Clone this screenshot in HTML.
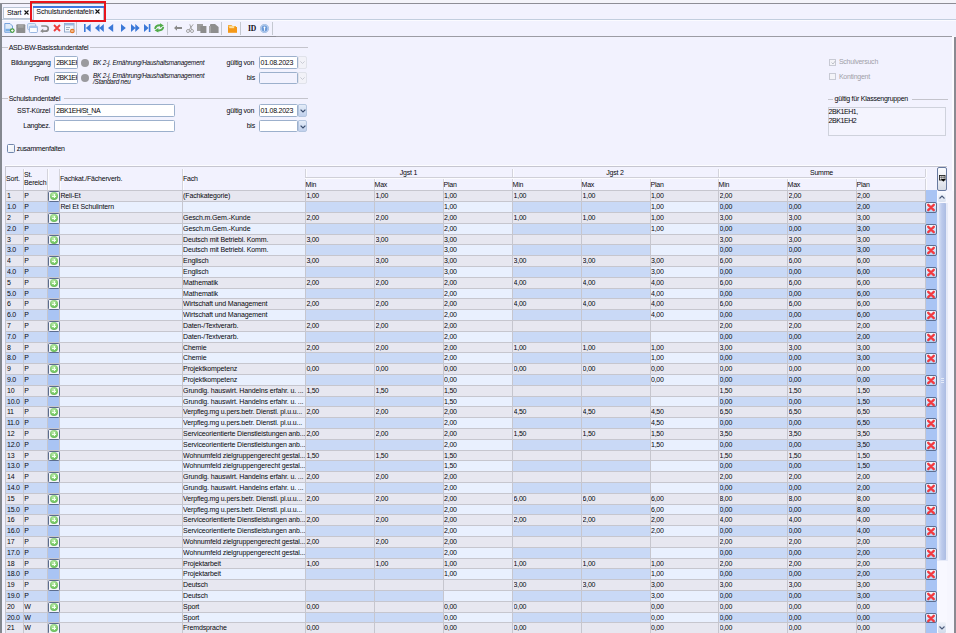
<!DOCTYPE html>
<html><head><meta charset="utf-8"><style>
*{margin:0;padding:0;box-sizing:border-box}
html,body{width:956px;height:633px;overflow:hidden;background:#f2f2fe;font-family:"Liberation Sans",sans-serif;font-size:7px;color:#08080c}
.a{position:absolute}
.c{position:absolute;border-top:1px solid #c6c6ce;border-left:1px solid #c6c6ce;overflow:hidden;white-space:nowrap}
.t{position:absolute;font-size:7px;letter-spacing:-0.25px;line-height:8px;white-space:nowrap;overflow:hidden}
.pb{position:absolute;width:12.2px;border:1px solid #5c6c8e;border-radius:1.5px;background:#f4f6fa}
.pb i{position:absolute;left:1.1px;top:0.6px;width:8.4px;height:8.4px;border-radius:50%;background:radial-gradient(circle at 45% 35%,#c8f0b8,#6cc05c 65%,#58a84c)}
.pb i:before{content:"";position:absolute;left:3.6px;top:2.4px;width:1.2px;height:3.6px;background:#f4fff0}
.pb i:after{content:"";position:absolute;left:2.4px;top:3.6px;width:3.6px;height:1.2px;background:#f4fff0}
.xb{position:absolute;width:12px;border:1px solid #5c6e90;border-radius:2px;background:linear-gradient(#f4f8fe,#b4d4f6)}
.xb svg{position:absolute;left:0px;top:0.3px}
.hd{position:absolute;font-size:7px;letter-spacing:-0.2px;line-height:8px;white-space:nowrap}
.lbl{position:absolute;font-size:7px;letter-spacing:-0.24px;line-height:8px;white-space:nowrap}
.inp{position:absolute;background:#fff;border:1px solid #9cb0cc;border-radius:1.5px}
.fs{position:absolute;height:1px;background:#c4c4cc}
</style></head><body>
<!-- top strip -->
<div class="a" style="left:0;top:0;width:956px;height:3px;background:#f4f4fa"></div>
<div class="a" style="left:0;top:3px;width:956px;height:1px;background:#8e8e96"></div>
<!-- tab bar -->
<div class="a" style="left:0;top:4px;width:956px;height:15px;background:#f2f2fe"></div>
<div class="a" style="left:0;top:18.6px;width:956px;height:1.6px;background:#c2cede"></div><div class="a" style="left:0;top:20.2px;width:956px;height:1px;background:#fbfbff"></div>
<div class="a" style="left:2.5px;top:6.5px;width:28px;height:12.5px;background:#fbfbff;border:1px solid #b8c4d4"></div>
<div class="hd" style="left:7px;top:9px;font-size:7.2px">Start</div>
<svg class="a" style="left:23.6px;top:10.2px" width="5" height="5" viewBox="0 0 5 5"><path d="M0.5 0.5 L4.5 4.5 M4.5 0.5 L0.5 4.5" stroke="#111" stroke-width="1.1"/></svg>
<div class="a" style="left:33px;top:6px;width:71px;height:14px;background:#fcfcff;border-left:1px solid #b4c0d0;border-right:1px solid #b4c0d0"></div>
<div class="a" style="left:33px;top:6px;width:71px;height:1.6px;background:#3a78e0"></div>
<div class="hd" style="left:36.3px;top:8px;font-size:7.2px">Schulstundentafeln</div>
<svg class="a" style="left:95px;top:9.2px" width="5" height="5" viewBox="0 0 5 5"><path d="M0.5 0.5 L4.5 4.5 M4.5 0.5 L0.5 4.5" stroke="#111" stroke-width="1.1"/></svg>
<div class="a" style="left:30px;top:1.3px;width:75.5px;height:20.7px;border:2.2px solid #e8141c"></div>
<!-- toolbar -->
<div class="a" style="left:0;top:36px;width:276px;height:1px;background:#8c8c94"></div>
<div class="a" style="left:276px;top:36px;width:676px;height:1px;background:#9c9ca4"></div><div class="a" style="left:952px;top:36px;width:2.5px;height:597px;background:#fbfbff"></div>
<svg class="a" style="left:4px;top:23px" width="11" height="10" viewBox="0 0 11 10"><path d="M0.8 0.5 H6 L8.5 3 V9.3 H0.8 Z" fill="#dfeaf8" stroke="#6a9ad8" stroke-width="0.9"/><rect x="1.5" y="5.8" width="6" height="2.5" fill="#7ab0e8"/><circle cx="8.3" cy="7.6" r="2.4" fill="#4aa040"/><path d="M8.3 6.3 V8.9 M7 7.6 H9.6" stroke="#fff" stroke-width="0.9"/></svg>
<svg class="a" style="left:16px;top:23.5px" width="10" height="9.5" viewBox="0 0 10 9.5"><rect x="0.3" y="0.3" width="9" height="9" rx="1" fill="#8e8e8e"/><rect x="2" y="0.8" width="5.5" height="3" fill="#a4a4a4"/></svg>
<svg class="a" style="left:27px;top:22.8px" width="11" height="10.2" viewBox="0 0 11 10.2"><rect x="0.6" y="0.6" width="8" height="6" rx="1" fill="#e6eefa" stroke="#98b8e0" stroke-width="0.9"/><rect x="2.4" y="3.2" width="8" height="6.4" rx="1" fill="#fafcff" stroke="#88aadc" stroke-width="0.9"/><rect x="2.4" y="3.2" width="8" height="1.8" fill="#a8c4ec"/></svg>
<svg class="a" style="left:40.3px;top:23.8px" width="9" height="9" viewBox="0 0 9 9"><path d="M1.2 2 H5.6 A2.6 2.6 0 0 1 5.6 7.2 H2.6" fill="none" stroke="#8c8c8c" stroke-width="1.7"/><path d="M0.2 7.2 L3.2 4.6 V9 Z" fill="#8c8c8c"/></svg>
<svg class="a" style="left:52.5px;top:24px" width="8" height="8" viewBox="0 0 8 8"><path d="M1 1 L7 7 M7 1 L1 7" stroke="#ee3c3c" stroke-width="1.9"/></svg>
<svg class="a" style="left:64px;top:23px" width="11" height="10.5" viewBox="0 0 11 10.5"><rect x="0.5" y="0.5" width="9.5" height="8.5" fill="#f0f4fa" stroke="#8aa4c8" stroke-width="0.9"/><rect x="0.5" y="0.5" width="9.5" height="2" fill="#9cb8e0"/><path d="M2 4.5 H6 M2 6.5 H5" stroke="#8a9ab0" stroke-width="0.8"/><circle cx="8.3" cy="8" r="2.3" fill="#e87820"/><path d="M7.1 8 H9.5" stroke="#fff" stroke-width="0.9"/></svg>
<div class="a" style="left:76px;top:22px;width:1px;height:13px;background:#c4c8d0"></div>
<div class="a" style="left:167px;top:22px;width:1px;height:13px;background:#c4c8d0"></div>
<div class="a" style="left:221px;top:22px;width:1px;height:13px;background:#c4c8d0"></div>
<div class="a" style="left:240px;top:22px;width:1px;height:13px;background:#c4c8d0"></div>
<div class="a" style="left:272px;top:22px;width:1px;height:13px;background:#c4c8d0"></div>
<svg class="a" style="left:83.8px;top:24px" width="7" height="8" viewBox="0 0 7 8"><rect x="0" y="0" width="1.6" height="8" fill="#3a78d8"/><path d="M6.6 0 V8 L1.8 4 Z" fill="#3a78d8"/></svg>
<svg class="a" style="left:95px;top:24px" width="9" height="8" viewBox="0 0 9 8"><path d="M4.5 0 V8 L0 4 Z M8.8 0 V8 L4.3 4 Z" fill="#3a78d8"/></svg>
<svg class="a" style="left:108.2px;top:24px" width="6" height="8" viewBox="0 0 6 8"><path d="M5.2 0 V8 L0 4 Z" fill="#3a78d8"/></svg>
<svg class="a" style="left:120.5px;top:24px" width="6" height="8" viewBox="0 0 6 8"><path d="M0 0 V8 L4.8 4 Z" fill="#3a78d8"/></svg>
<svg class="a" style="left:130.8px;top:24px" width="9" height="8" viewBox="0 0 9 8"><path d="M0 0 V8 L4.5 4 Z M4.3 0 V8 L8.6 4 Z" fill="#3a78d8"/></svg>
<svg class="a" style="left:144px;top:24px" width="7" height="8" viewBox="0 0 7 8"><path d="M0 0 V8 L4.6 4 Z" fill="#3a78d8"/><rect x="4.8" y="0" width="1.6" height="8" fill="#3a78d8"/></svg>
<svg class="a" style="left:154px;top:23px" width="10.5" height="10" viewBox="0 0 10.5 10"><path d="M1.2 5.2 Q2.2 1.8 6.8 2.4" fill="none" stroke="#52ac4a" stroke-width="1.9" stroke-linecap="round"/><path d="M6 0.2 L9.8 2.6 L6 4.8 Z" fill="#52ac4a"/><path d="M9.2 4.6 Q8.2 8 3.6 7.4" fill="none" stroke="#52ac4a" stroke-width="1.9" stroke-linecap="round"/><path d="M4.4 5 L0.6 7.4 L4.4 9.6 Z" fill="#52ac4a"/></svg>
<svg class="a" style="left:173.8px;top:25px" width="8.5" height="6" viewBox="0 0 8.5 6"><path d="M0 3 L3 0.3 V2 H8.2 V4 H3 V5.7 Z" fill="#8a8a8a"/></svg>
<svg class="a" style="left:185.7px;top:23.5px" width="8" height="9" viewBox="0 0 8 9"><path d="M7.2 0.3 L3 6 M3.8 0.3 L5.6 5.6" stroke="#9a9a9a" stroke-width="0.9" fill="none"/><circle cx="2" cy="7" r="1.5" fill="none" stroke="#9a9a9a" stroke-width="0.9"/><circle cx="6" cy="7" r="1.5" fill="none" stroke="#9a9a9a" stroke-width="0.9"/></svg>
<svg class="a" style="left:197px;top:23.5px" width="10" height="9" viewBox="0 0 10 9"><rect x="0" y="0" width="6" height="7" fill="#9c9c9c"/><rect x="3.4" y="2" width="6" height="7" fill="#8c8c8c"/></svg>
<svg class="a" style="left:209px;top:23.5px" width="10" height="9.5" viewBox="0 0 10 9.5"><path d="M1 1 Q1 0 2 0 H6 L9.6 3 V9.2 H1 Z" fill="#8e8e8e"/><path d="M0 2 H2 V9.2 H0 Z" fill="#a6a6a6"/></svg>
<svg class="a" style="left:227.7px;top:23.5px" width="9.5" height="9" viewBox="0 0 9.5 9"><path d="M0 1 H3.5 L4.5 2 H8 V3 H0 Z" fill="#f4b040"/><rect x="0" y="3" width="9.2" height="5.8" fill="#f49818"/><rect x="1.2" y="2.2" width="5" height="2" fill="#fde0a0"/></svg>
<div class="a" style="left:248px;top:24px;font-family:'Liberation Serif',serif;font-weight:bold;font-size:7.6px;line-height:9px;letter-spacing:-0.2px;color:#101018">ID</div>
<svg class="a" style="left:260.3px;top:23.6px" width="9" height="9" viewBox="0 0 9 9"><circle cx="4.5" cy="4.5" r="4.2" fill="#bcd2f0" stroke="#90b0dc" stroke-width="0.6"/><circle cx="4.5" cy="4.5" r="2.9" fill="#6c9ad8"/><circle cx="4.5" cy="3.6" r="1" fill="#fff"/><rect x="4.1" y="3.8" width="0.9" height="3" fill="#fff"/></svg>
<!-- left/right edges -->
<div class="a" style="left:0;top:4px;width:1.6px;height:629px;background:#84888f"></div>
<div class="a" style="left:954.4px;top:37px;width:1.6px;height:596px;background:#8a8a92"></div>

<!-- form: ASD-BW -->
<div class="fs" style="left:2px;top:47px;width:6px"></div>
<div class="lbl" style="left:8.7px;top:43.5px">ASD-BW-Basisstundentafel</div>
<div class="fs" style="left:89.5px;top:47px;width:218.5px"></div>
<div class="lbl" style="left:11px;top:58.5px">Bildungsgang</div>
<div class="inp" style="left:54px;top:56px;width:24px;height:12.8px;overflow:hidden"><span class="lbl" style="left:1.2px;top:2.3px;letter-spacing:-0.5px">2BK1EH</span></div>
<div class="a" style="left:80.8px;top:58.6px;width:8px;height:8px;border-radius:50%;background:#9a9a9e"></div>
<div class="lbl" style="left:93px;top:58.8px;font-style:italic;font-size:6.4px;letter-spacing:-0.19px">BK 2-j. Ernährung/Haushaltsmanagement</div>
<div class="lbl" style="left:34.3px;top:74.6px">Profil</div>
<div class="inp" style="left:54px;top:71.9px;width:24px;height:12.2px;overflow:hidden"><span class="lbl" style="left:1.2px;top:1.6px;letter-spacing:-0.5px">2BK1EH</span></div>
<div class="a" style="left:80.8px;top:74px;width:8px;height:8px;border-radius:50%;background:#9a9a9e"></div>
<div class="lbl" style="left:93px;top:73px;font-style:italic;font-size:6.4px;line-height:6px;letter-spacing:-0.19px">BK 2-j. Ernährung/Haushaltsmanagement<br>/Standard neu</div>
<div class="lbl" style="left:226.6px;top:58.5px">gültig von</div>
<div class="inp" style="left:259.2px;top:56px;width:38.6px;height:12.8px"><span class="lbl" style="left:0.3px;top:2.3px">01.08.2023</span></div>
<div class="a" style="left:298.4px;top:56px;width:8.8px;height:12.8px;border:1px solid #e0e2ea;background:#f2f2f8;border-radius:1px 2px 2px 1px"></div><svg class="a" style="left:300.2px;top:61px" width="5" height="3" viewBox="0 0 5 3"><path d="M0.4 0.4 L2.5 2.5 L4.6 0.4" fill="none" stroke="#c4c6d0" stroke-width="0.9"/></svg>
<div class="lbl" style="left:246.7px;top:74px">bis</div>
<div class="inp" style="left:259.2px;top:71.9px;width:38.6px;height:12.2px;background:#f2f2fe"></div>
<div class="a" style="left:298.4px;top:71.9px;width:8.8px;height:12.2px;border:1px solid #e0e2ea;background:#f2f2f8;border-radius:1px 2px 2px 1px"></div><svg class="a" style="left:300.2px;top:76.6px" width="5" height="3" viewBox="0 0 5 3"><path d="M0.4 0.4 L2.5 2.5 L4.6 0.4" fill="none" stroke="#c4c6d0" stroke-width="0.9"/></svg>

<!-- form: Schulstundentafel -->
<div class="fs" style="left:2px;top:98.4px;width:6px"></div>
<div class="lbl" style="left:8.7px;top:95.2px">Schulstundentafel</div>
<div class="fs" style="left:63.6px;top:98.4px;width:244.4px"></div>
<div class="lbl" style="left:17px;top:107px">SST-Kürzel</div>
<div class="inp" style="left:54px;top:104px;width:120.5px;height:12.8px"><span class="lbl" style="left:1.2px;top:2.2px;letter-spacing:-0.42px">2BK1EH/St_NA</span></div>
<div class="lbl" style="left:23.3px;top:122px">Langbez.</div>
<div class="inp" style="left:54px;top:119.9px;width:120.5px;height:12.2px"></div>
<div class="lbl" style="left:226.6px;top:107px">gültig von</div>
<div class="inp" style="left:259.2px;top:104px;width:38.6px;height:12.8px"><span class="lbl" style="left:0.3px;top:2.2px">01.08.2023</span></div>
<div class="a" style="left:298.4px;top:104px;width:8.8px;height:12.8px;border:1px solid #b4c6e0;background:linear-gradient(#e4ecf8,#c0d0ec);border-radius:1px 2px 2px 1px"></div><svg class="a" style="left:299.8px;top:109px" width="6" height="4" viewBox="0 0 6 4"><path d="M0.6 0.6 L3 3 L5.4 0.6" fill="none" stroke="#3a4c6e" stroke-width="1.2"/></svg>
<div class="lbl" style="left:246.7px;top:122px">bis</div>
<div class="inp" style="left:259.2px;top:119.9px;width:38.6px;height:12.2px"></div>
<div class="a" style="left:298.4px;top:119.9px;width:8.8px;height:12.2px;border:1px solid #b4c6e0;background:linear-gradient(#e4ecf8,#c0d0ec);border-radius:1px 2px 2px 1px"></div><svg class="a" style="left:299.8px;top:124.6px" width="6" height="4" viewBox="0 0 6 4"><path d="M0.6 0.6 L3 3 L5.4 0.6" fill="none" stroke="#3a4c6e" stroke-width="1.2"/></svg>
<div class="a" style="left:6.6px;top:144.4px;width:8.4px;height:8.3px;border:1.1px solid #7086ac;border-radius:1.5px;background:linear-gradient(135deg,#fff,#e8ecf4)"></div>
<div class="lbl" style="left:16.7px;top:144.6px">zusammenfalten</div>

<!-- right side -->
<div class="a" style="left:829.4px;top:58.6px;width:7px;height:7px;border:1px solid #c8cad4;background:#f4f4f8"></div>
<svg class="a" style="left:830.6px;top:59.8px" width="5" height="5" viewBox="0 0 5 5"><path d="M0.5 2.5 L2 4 L4.5 0.8" fill="none" stroke="#b0b2bc" stroke-width="0.8"/></svg><div class="lbl" style="left:838.9px;top:58.1px;color:#a0a0a8">Schulversuch</div>
<div class="a" style="left:829.4px;top:72.9px;width:7px;height:7px;border:1px solid #c8cad4;background:#f4f4f8"></div>
<div class="lbl" style="left:838.9px;top:72.7px;color:#a0a0a8">Kontingent</div>
<div class="fs" style="left:828.3px;top:98.8px;width:4.7px"></div>
<div class="lbl" style="left:834.6px;top:94.8px">gültig für Klassengruppen</div>
<div class="fs" style="left:912px;top:98.8px;width:36px"></div>
<div class="a" style="left:828.3px;top:107.1px;width:117.6px;height:29.3px;border:1px solid #cfd2dc;background:#f4f4fe"></div>
<div class="lbl" style="left:828.6px;top:108px;line-height:8.7px;letter-spacing:-0.45px">2BK1EH1,<br>2BK1EH2</div>

<!-- table header -->
<div class="a" style="left:5px;top:165px;width:942px;height:1px;background:#fcfcff"></div><div class="a" style="left:5px;top:166px;width:942px;height:1px;background:#c6c6d0"></div>
<div class="a" style="left:6px;top:167.2px;width:919px;height:23.100000000000023px;background:#f2f2fe"></div>
<div class="a" style="left:5px;top:166.2px;width:1px;height:466.8px;background:#c6c6d0"></div>
<div class="a" style="left:22.50px;top:168.70px;width:1px;height:21.60px;background:#d4d4dc"></div><div class="a" style="left:23.50px;top:168.70px;width:1px;height:21.60px;background:#fcfcff"></div>
<div class="a" style="left:46.50px;top:168.70px;width:1px;height:21.60px;background:#d4d4dc"></div><div class="a" style="left:47.50px;top:168.70px;width:1px;height:21.60px;background:#fcfcff"></div>
<div class="a" style="left:58.50px;top:168.70px;width:1px;height:21.60px;background:#d4d4dc"></div><div class="a" style="left:59.50px;top:168.70px;width:1px;height:21.60px;background:#fcfcff"></div>
<div class="a" style="left:181.50px;top:168.70px;width:1px;height:21.60px;background:#d4d4dc"></div><div class="a" style="left:182.50px;top:168.70px;width:1px;height:21.60px;background:#fcfcff"></div>
<div class="a" style="left:304.50px;top:168.70px;width:1px;height:8.40px;background:#d4d4dc"></div><div class="a" style="left:305.50px;top:168.70px;width:1px;height:8.40px;background:#fcfcff"></div>
<div class="a" style="left:511.50px;top:168.70px;width:1px;height:8.40px;background:#d4d4dc"></div><div class="a" style="left:512.50px;top:168.70px;width:1px;height:8.40px;background:#fcfcff"></div>
<div class="a" style="left:717.50px;top:168.70px;width:1px;height:8.40px;background:#d4d4dc"></div><div class="a" style="left:718.50px;top:168.70px;width:1px;height:8.40px;background:#fcfcff"></div>
<div class="a" style="left:924.50px;top:168.70px;width:1px;height:8.40px;background:#d4d4dc"></div><div class="a" style="left:925.50px;top:168.70px;width:1px;height:8.40px;background:#fcfcff"></div>
<div class="a" style="left:304.50px;top:179.10px;width:1px;height:11.20px;background:#d4d4dc"></div><div class="a" style="left:305.50px;top:179.10px;width:1px;height:11.20px;background:#fcfcff"></div>
<div class="a" style="left:373.50px;top:179.10px;width:1px;height:11.20px;background:#d4d4dc"></div><div class="a" style="left:374.50px;top:179.10px;width:1px;height:11.20px;background:#fcfcff"></div>
<div class="a" style="left:442.50px;top:179.10px;width:1px;height:11.20px;background:#d4d4dc"></div><div class="a" style="left:443.50px;top:179.10px;width:1px;height:11.20px;background:#fcfcff"></div>
<div class="a" style="left:511.50px;top:179.10px;width:1px;height:11.20px;background:#d4d4dc"></div><div class="a" style="left:512.50px;top:179.10px;width:1px;height:11.20px;background:#fcfcff"></div>
<div class="a" style="left:580.50px;top:179.10px;width:1px;height:11.20px;background:#d4d4dc"></div><div class="a" style="left:581.50px;top:179.10px;width:1px;height:11.20px;background:#fcfcff"></div>
<div class="a" style="left:649.50px;top:179.10px;width:1px;height:11.20px;background:#d4d4dc"></div><div class="a" style="left:650.50px;top:179.10px;width:1px;height:11.20px;background:#fcfcff"></div>
<div class="a" style="left:717.50px;top:179.10px;width:1px;height:11.20px;background:#d4d4dc"></div><div class="a" style="left:718.50px;top:179.10px;width:1px;height:11.20px;background:#fcfcff"></div>
<div class="a" style="left:786.50px;top:179.10px;width:1px;height:11.20px;background:#d4d4dc"></div><div class="a" style="left:787.50px;top:179.10px;width:1px;height:11.20px;background:#fcfcff"></div>
<div class="a" style="left:855.50px;top:179.10px;width:1px;height:11.20px;background:#d4d4dc"></div><div class="a" style="left:856.50px;top:179.10px;width:1px;height:11.20px;background:#fcfcff"></div>
<div class="a" style="left:924.50px;top:179.10px;width:1px;height:11.20px;background:#d4d4dc"></div><div class="a" style="left:925.50px;top:179.10px;width:1px;height:11.20px;background:#fcfcff"></div>
<div class="a" style="left:305.00px;top:177.10px;width:620.00px;height:1px;background:#d0d0d8"></div>
<div class="a" style="left:305.00px;top:178.10px;width:620.00px;height:1px;background:#fcfcff"></div>
<div class="hd" style="left:6px;top:174.5px">Sort.</div>
<div class="hd" style="left:24px;top:170.8px;line-height:8.3px">St.<br>Bereich</div>
<div class="hd" style="left:60px;top:175px">Fachkat./Fächerverb.</div>
<div class="hd" style="left:183px;top:175px">Fach</div>
<div class="hd" style="left:305.00px;top:168.5px;width:207.00px;text-align:center">Jgst 1</div>
<div class="hd" style="left:305.50px;top:180.6px">Min</div>
<div class="hd" style="left:374.50px;top:180.6px">Max</div>
<div class="hd" style="left:443.50px;top:180.6px">Plan</div>
<div class="hd" style="left:512.00px;top:168.5px;width:206.00px;text-align:center">Jgst 2</div>
<div class="hd" style="left:512.50px;top:180.6px">Min</div>
<div class="hd" style="left:581.50px;top:180.6px">Max</div>
<div class="hd" style="left:650.50px;top:180.6px">Plan</div>
<div class="hd" style="left:718.00px;top:168.5px;width:207.00px;text-align:center">Summe</div>
<div class="hd" style="left:718.50px;top:180.6px">Min</div>
<div class="hd" style="left:787.50px;top:180.6px">Max</div>
<div class="hd" style="left:856.50px;top:180.6px">Plan</div>
<div class="a" style="left:937px;top:166.6px;width:10.3px;height:24.2px;border:1.4px solid #687aa0;border-radius:2px;background:linear-gradient(#fafbfe,#eceef4 50%,#d8dce6)"></div>
<svg class="a" style="left:939.2px;top:174.8px" width="7" height="7" viewBox="0 0 7 7"><rect x="0.5" y="0.5" width="5.5" height="4.5" fill="#fafafa" stroke="#222" stroke-width="0.9"/><path d="M0.5 2.3 H6 M2.3 0.5 V5 M4.1 0.5 V5" stroke="#444" stroke-width="0.6"/><path d="M2 4 H6.6 L4.3 6.8 Z" fill="#000"/></svg>
<div class="a" style="left:5px;top:190px;width:920px;height:11px;background:#e7e7f0"></div>
<div class="a" style="left:925px;top:190px;width:12px;height:11px;background:#a9c4f4"></div>
<div class="a" style="left:5px;top:201px;width:42px;height:11px;background:#c9d9f6"></div>
<div class="a" style="left:47px;top:201px;width:12px;height:11px;background:#a9c4f4"></div>
<div class="a" style="left:59px;top:201px;width:246px;height:11px;background:#e9f0fe"></div>
<div class="a" style="left:305px;top:201px;width:138px;height:11px;background:#c9d9f6"></div>
<div class="a" style="left:443px;top:201px;width:69px;height:11px;background:#e9f0fe"></div>
<div class="a" style="left:512px;top:201px;width:138px;height:11px;background:#c9d9f6"></div>
<div class="a" style="left:650px;top:201px;width:68px;height:11px;background:#e9f0fe"></div>
<div class="a" style="left:718px;top:201px;width:207px;height:11px;background:#c9d9f6"></div>
<div class="a" style="left:925px;top:201px;width:12px;height:11px;background:#a9c4f4"></div>
<div class="a" style="left:5px;top:212px;width:920px;height:11px;background:#e7e7f0"></div>
<div class="a" style="left:925px;top:212px;width:12px;height:11px;background:#a9c4f4"></div>
<div class="a" style="left:5px;top:223px;width:42px;height:11px;background:#c9d9f6"></div>
<div class="a" style="left:47px;top:223px;width:12px;height:11px;background:#a9c4f4"></div>
<div class="a" style="left:59px;top:223px;width:246px;height:11px;background:#e9f0fe"></div>
<div class="a" style="left:305px;top:223px;width:138px;height:11px;background:#c9d9f6"></div>
<div class="a" style="left:443px;top:223px;width:69px;height:11px;background:#e9f0fe"></div>
<div class="a" style="left:512px;top:223px;width:138px;height:11px;background:#c9d9f6"></div>
<div class="a" style="left:650px;top:223px;width:68px;height:11px;background:#e9f0fe"></div>
<div class="a" style="left:718px;top:223px;width:207px;height:11px;background:#c9d9f6"></div>
<div class="a" style="left:925px;top:223px;width:12px;height:11px;background:#a9c4f4"></div>
<div class="a" style="left:5px;top:234px;width:920px;height:10px;background:#e7e7f0"></div>
<div class="a" style="left:925px;top:234px;width:12px;height:10px;background:#a9c4f4"></div>
<div class="a" style="left:5px;top:244px;width:42px;height:11px;background:#c9d9f6"></div>
<div class="a" style="left:47px;top:244px;width:12px;height:11px;background:#a9c4f4"></div>
<div class="a" style="left:59px;top:244px;width:246px;height:11px;background:#e9f0fe"></div>
<div class="a" style="left:305px;top:244px;width:138px;height:11px;background:#c9d9f6"></div>
<div class="a" style="left:443px;top:244px;width:69px;height:11px;background:#e9f0fe"></div>
<div class="a" style="left:512px;top:244px;width:138px;height:11px;background:#c9d9f6"></div>
<div class="a" style="left:650px;top:244px;width:68px;height:11px;background:#e9f0fe"></div>
<div class="a" style="left:718px;top:244px;width:207px;height:11px;background:#c9d9f6"></div>
<div class="a" style="left:925px;top:244px;width:12px;height:11px;background:#a9c4f4"></div>
<div class="a" style="left:5px;top:255px;width:920px;height:11px;background:#e7e7f0"></div>
<div class="a" style="left:925px;top:255px;width:12px;height:11px;background:#a9c4f4"></div>
<div class="a" style="left:5px;top:266px;width:42px;height:11px;background:#c9d9f6"></div>
<div class="a" style="left:47px;top:266px;width:12px;height:11px;background:#a9c4f4"></div>
<div class="a" style="left:59px;top:266px;width:246px;height:11px;background:#e9f0fe"></div>
<div class="a" style="left:305px;top:266px;width:138px;height:11px;background:#c9d9f6"></div>
<div class="a" style="left:443px;top:266px;width:69px;height:11px;background:#e9f0fe"></div>
<div class="a" style="left:512px;top:266px;width:138px;height:11px;background:#c9d9f6"></div>
<div class="a" style="left:650px;top:266px;width:68px;height:11px;background:#e9f0fe"></div>
<div class="a" style="left:718px;top:266px;width:207px;height:11px;background:#c9d9f6"></div>
<div class="a" style="left:925px;top:266px;width:12px;height:11px;background:#a9c4f4"></div>
<div class="a" style="left:5px;top:277px;width:920px;height:11px;background:#e7e7f0"></div>
<div class="a" style="left:925px;top:277px;width:12px;height:11px;background:#a9c4f4"></div>
<div class="a" style="left:5px;top:288px;width:42px;height:10px;background:#c9d9f6"></div>
<div class="a" style="left:47px;top:288px;width:12px;height:10px;background:#a9c4f4"></div>
<div class="a" style="left:59px;top:288px;width:246px;height:10px;background:#e9f0fe"></div>
<div class="a" style="left:305px;top:288px;width:138px;height:10px;background:#c9d9f6"></div>
<div class="a" style="left:443px;top:288px;width:69px;height:10px;background:#e9f0fe"></div>
<div class="a" style="left:512px;top:288px;width:138px;height:10px;background:#c9d9f6"></div>
<div class="a" style="left:650px;top:288px;width:68px;height:10px;background:#e9f0fe"></div>
<div class="a" style="left:718px;top:288px;width:207px;height:10px;background:#c9d9f6"></div>
<div class="a" style="left:925px;top:288px;width:12px;height:10px;background:#a9c4f4"></div>
<div class="a" style="left:5px;top:298px;width:920px;height:11px;background:#e7e7f0"></div>
<div class="a" style="left:925px;top:298px;width:12px;height:11px;background:#a9c4f4"></div>
<div class="a" style="left:5px;top:309px;width:42px;height:11px;background:#c9d9f6"></div>
<div class="a" style="left:47px;top:309px;width:12px;height:11px;background:#a9c4f4"></div>
<div class="a" style="left:59px;top:309px;width:246px;height:11px;background:#e9f0fe"></div>
<div class="a" style="left:305px;top:309px;width:138px;height:11px;background:#c9d9f6"></div>
<div class="a" style="left:443px;top:309px;width:69px;height:11px;background:#e9f0fe"></div>
<div class="a" style="left:512px;top:309px;width:138px;height:11px;background:#c9d9f6"></div>
<div class="a" style="left:650px;top:309px;width:68px;height:11px;background:#e9f0fe"></div>
<div class="a" style="left:718px;top:309px;width:207px;height:11px;background:#c9d9f6"></div>
<div class="a" style="left:925px;top:309px;width:12px;height:11px;background:#a9c4f4"></div>
<div class="a" style="left:5px;top:320px;width:920px;height:11px;background:#e7e7f0"></div>
<div class="a" style="left:925px;top:320px;width:12px;height:11px;background:#a9c4f4"></div>
<div class="a" style="left:5px;top:331px;width:42px;height:11px;background:#c9d9f6"></div>
<div class="a" style="left:47px;top:331px;width:12px;height:11px;background:#a9c4f4"></div>
<div class="a" style="left:59px;top:331px;width:246px;height:11px;background:#e9f0fe"></div>
<div class="a" style="left:305px;top:331px;width:138px;height:11px;background:#c9d9f6"></div>
<div class="a" style="left:443px;top:331px;width:69px;height:11px;background:#e9f0fe"></div>
<div class="a" style="left:512px;top:331px;width:138px;height:11px;background:#c9d9f6"></div>
<div class="a" style="left:650px;top:331px;width:68px;height:11px;background:#e9f0fe"></div>
<div class="a" style="left:718px;top:331px;width:207px;height:11px;background:#c9d9f6"></div>
<div class="a" style="left:925px;top:331px;width:12px;height:11px;background:#a9c4f4"></div>
<div class="a" style="left:5px;top:342px;width:920px;height:10px;background:#e7e7f0"></div>
<div class="a" style="left:925px;top:342px;width:12px;height:10px;background:#a9c4f4"></div>
<div class="a" style="left:5px;top:352px;width:42px;height:11px;background:#c9d9f6"></div>
<div class="a" style="left:47px;top:352px;width:12px;height:11px;background:#a9c4f4"></div>
<div class="a" style="left:59px;top:352px;width:246px;height:11px;background:#e9f0fe"></div>
<div class="a" style="left:305px;top:352px;width:138px;height:11px;background:#c9d9f6"></div>
<div class="a" style="left:443px;top:352px;width:69px;height:11px;background:#e9f0fe"></div>
<div class="a" style="left:512px;top:352px;width:138px;height:11px;background:#c9d9f6"></div>
<div class="a" style="left:650px;top:352px;width:68px;height:11px;background:#e9f0fe"></div>
<div class="a" style="left:718px;top:352px;width:207px;height:11px;background:#c9d9f6"></div>
<div class="a" style="left:925px;top:352px;width:12px;height:11px;background:#a9c4f4"></div>
<div class="a" style="left:5px;top:363px;width:920px;height:11px;background:#e7e7f0"></div>
<div class="a" style="left:925px;top:363px;width:12px;height:11px;background:#a9c4f4"></div>
<div class="a" style="left:5px;top:374px;width:42px;height:11px;background:#c9d9f6"></div>
<div class="a" style="left:47px;top:374px;width:12px;height:11px;background:#a9c4f4"></div>
<div class="a" style="left:59px;top:374px;width:246px;height:11px;background:#e9f0fe"></div>
<div class="a" style="left:305px;top:374px;width:138px;height:11px;background:#c9d9f6"></div>
<div class="a" style="left:443px;top:374px;width:69px;height:11px;background:#e9f0fe"></div>
<div class="a" style="left:512px;top:374px;width:138px;height:11px;background:#c9d9f6"></div>
<div class="a" style="left:650px;top:374px;width:68px;height:11px;background:#e9f0fe"></div>
<div class="a" style="left:718px;top:374px;width:207px;height:11px;background:#c9d9f6"></div>
<div class="a" style="left:925px;top:374px;width:12px;height:11px;background:#a9c4f4"></div>
<div class="a" style="left:5px;top:385px;width:920px;height:11px;background:#e7e7f0"></div>
<div class="a" style="left:925px;top:385px;width:12px;height:11px;background:#a9c4f4"></div>
<div class="a" style="left:5px;top:396px;width:42px;height:10px;background:#c9d9f6"></div>
<div class="a" style="left:47px;top:396px;width:12px;height:10px;background:#a9c4f4"></div>
<div class="a" style="left:59px;top:396px;width:246px;height:10px;background:#e9f0fe"></div>
<div class="a" style="left:305px;top:396px;width:138px;height:10px;background:#c9d9f6"></div>
<div class="a" style="left:443px;top:396px;width:69px;height:10px;background:#e9f0fe"></div>
<div class="a" style="left:512px;top:396px;width:138px;height:10px;background:#c9d9f6"></div>
<div class="a" style="left:650px;top:396px;width:68px;height:10px;background:#e9f0fe"></div>
<div class="a" style="left:718px;top:396px;width:207px;height:10px;background:#c9d9f6"></div>
<div class="a" style="left:925px;top:396px;width:12px;height:10px;background:#a9c4f4"></div>
<div class="a" style="left:5px;top:406px;width:920px;height:11px;background:#e7e7f0"></div>
<div class="a" style="left:925px;top:406px;width:12px;height:11px;background:#a9c4f4"></div>
<div class="a" style="left:5px;top:417px;width:42px;height:11px;background:#c9d9f6"></div>
<div class="a" style="left:47px;top:417px;width:12px;height:11px;background:#a9c4f4"></div>
<div class="a" style="left:59px;top:417px;width:246px;height:11px;background:#e9f0fe"></div>
<div class="a" style="left:305px;top:417px;width:138px;height:11px;background:#c9d9f6"></div>
<div class="a" style="left:443px;top:417px;width:69px;height:11px;background:#e9f0fe"></div>
<div class="a" style="left:512px;top:417px;width:138px;height:11px;background:#c9d9f6"></div>
<div class="a" style="left:650px;top:417px;width:68px;height:11px;background:#e9f0fe"></div>
<div class="a" style="left:718px;top:417px;width:207px;height:11px;background:#c9d9f6"></div>
<div class="a" style="left:925px;top:417px;width:12px;height:11px;background:#a9c4f4"></div>
<div class="a" style="left:5px;top:428px;width:920px;height:11px;background:#e7e7f0"></div>
<div class="a" style="left:925px;top:428px;width:12px;height:11px;background:#a9c4f4"></div>
<div class="a" style="left:5px;top:439px;width:42px;height:11px;background:#c9d9f6"></div>
<div class="a" style="left:47px;top:439px;width:12px;height:11px;background:#a9c4f4"></div>
<div class="a" style="left:59px;top:439px;width:246px;height:11px;background:#e9f0fe"></div>
<div class="a" style="left:305px;top:439px;width:138px;height:11px;background:#c9d9f6"></div>
<div class="a" style="left:443px;top:439px;width:69px;height:11px;background:#e9f0fe"></div>
<div class="a" style="left:512px;top:439px;width:138px;height:11px;background:#c9d9f6"></div>
<div class="a" style="left:650px;top:439px;width:68px;height:11px;background:#e9f0fe"></div>
<div class="a" style="left:718px;top:439px;width:207px;height:11px;background:#c9d9f6"></div>
<div class="a" style="left:925px;top:439px;width:12px;height:11px;background:#a9c4f4"></div>
<div class="a" style="left:5px;top:450px;width:920px;height:10px;background:#e7e7f0"></div>
<div class="a" style="left:925px;top:450px;width:12px;height:10px;background:#a9c4f4"></div>
<div class="a" style="left:5px;top:460px;width:42px;height:11px;background:#c9d9f6"></div>
<div class="a" style="left:47px;top:460px;width:12px;height:11px;background:#a9c4f4"></div>
<div class="a" style="left:59px;top:460px;width:246px;height:11px;background:#e9f0fe"></div>
<div class="a" style="left:305px;top:460px;width:138px;height:11px;background:#c9d9f6"></div>
<div class="a" style="left:443px;top:460px;width:69px;height:11px;background:#e9f0fe"></div>
<div class="a" style="left:512px;top:460px;width:138px;height:11px;background:#c9d9f6"></div>
<div class="a" style="left:650px;top:460px;width:68px;height:11px;background:#e9f0fe"></div>
<div class="a" style="left:718px;top:460px;width:207px;height:11px;background:#c9d9f6"></div>
<div class="a" style="left:925px;top:460px;width:12px;height:11px;background:#a9c4f4"></div>
<div class="a" style="left:5px;top:471px;width:920px;height:11px;background:#e7e7f0"></div>
<div class="a" style="left:925px;top:471px;width:12px;height:11px;background:#a9c4f4"></div>
<div class="a" style="left:5px;top:482px;width:42px;height:11px;background:#c9d9f6"></div>
<div class="a" style="left:47px;top:482px;width:12px;height:11px;background:#a9c4f4"></div>
<div class="a" style="left:59px;top:482px;width:246px;height:11px;background:#e9f0fe"></div>
<div class="a" style="left:305px;top:482px;width:138px;height:11px;background:#c9d9f6"></div>
<div class="a" style="left:443px;top:482px;width:69px;height:11px;background:#e9f0fe"></div>
<div class="a" style="left:512px;top:482px;width:138px;height:11px;background:#c9d9f6"></div>
<div class="a" style="left:650px;top:482px;width:68px;height:11px;background:#e9f0fe"></div>
<div class="a" style="left:718px;top:482px;width:207px;height:11px;background:#c9d9f6"></div>
<div class="a" style="left:925px;top:482px;width:12px;height:11px;background:#a9c4f4"></div>
<div class="a" style="left:5px;top:493px;width:920px;height:11px;background:#e7e7f0"></div>
<div class="a" style="left:925px;top:493px;width:12px;height:11px;background:#a9c4f4"></div>
<div class="a" style="left:5px;top:504px;width:42px;height:10px;background:#c9d9f6"></div>
<div class="a" style="left:47px;top:504px;width:12px;height:10px;background:#a9c4f4"></div>
<div class="a" style="left:59px;top:504px;width:246px;height:10px;background:#e9f0fe"></div>
<div class="a" style="left:305px;top:504px;width:138px;height:10px;background:#c9d9f6"></div>
<div class="a" style="left:443px;top:504px;width:69px;height:10px;background:#e9f0fe"></div>
<div class="a" style="left:512px;top:504px;width:138px;height:10px;background:#c9d9f6"></div>
<div class="a" style="left:650px;top:504px;width:68px;height:10px;background:#e9f0fe"></div>
<div class="a" style="left:718px;top:504px;width:207px;height:10px;background:#c9d9f6"></div>
<div class="a" style="left:925px;top:504px;width:12px;height:10px;background:#a9c4f4"></div>
<div class="a" style="left:5px;top:514px;width:920px;height:11px;background:#e7e7f0"></div>
<div class="a" style="left:925px;top:514px;width:12px;height:11px;background:#a9c4f4"></div>
<div class="a" style="left:5px;top:525px;width:42px;height:11px;background:#c9d9f6"></div>
<div class="a" style="left:47px;top:525px;width:12px;height:11px;background:#a9c4f4"></div>
<div class="a" style="left:59px;top:525px;width:246px;height:11px;background:#e9f0fe"></div>
<div class="a" style="left:305px;top:525px;width:138px;height:11px;background:#c9d9f6"></div>
<div class="a" style="left:443px;top:525px;width:69px;height:11px;background:#e9f0fe"></div>
<div class="a" style="left:512px;top:525px;width:138px;height:11px;background:#c9d9f6"></div>
<div class="a" style="left:650px;top:525px;width:68px;height:11px;background:#e9f0fe"></div>
<div class="a" style="left:718px;top:525px;width:207px;height:11px;background:#c9d9f6"></div>
<div class="a" style="left:925px;top:525px;width:12px;height:11px;background:#a9c4f4"></div>
<div class="a" style="left:5px;top:536px;width:920px;height:11px;background:#e7e7f0"></div>
<div class="a" style="left:925px;top:536px;width:12px;height:11px;background:#a9c4f4"></div>
<div class="a" style="left:5px;top:547px;width:42px;height:11px;background:#c9d9f6"></div>
<div class="a" style="left:47px;top:547px;width:12px;height:11px;background:#a9c4f4"></div>
<div class="a" style="left:59px;top:547px;width:246px;height:11px;background:#e9f0fe"></div>
<div class="a" style="left:305px;top:547px;width:138px;height:11px;background:#c9d9f6"></div>
<div class="a" style="left:443px;top:547px;width:69px;height:11px;background:#e9f0fe"></div>
<div class="a" style="left:512px;top:547px;width:138px;height:11px;background:#c9d9f6"></div>
<div class="a" style="left:650px;top:547px;width:68px;height:11px;background:#e9f0fe"></div>
<div class="a" style="left:718px;top:547px;width:207px;height:11px;background:#c9d9f6"></div>
<div class="a" style="left:925px;top:547px;width:12px;height:11px;background:#a9c4f4"></div>
<div class="a" style="left:5px;top:558px;width:920px;height:10px;background:#e7e7f0"></div>
<div class="a" style="left:925px;top:558px;width:12px;height:10px;background:#a9c4f4"></div>
<div class="a" style="left:5px;top:568px;width:42px;height:11px;background:#c9d9f6"></div>
<div class="a" style="left:47px;top:568px;width:12px;height:11px;background:#a9c4f4"></div>
<div class="a" style="left:59px;top:568px;width:246px;height:11px;background:#e9f0fe"></div>
<div class="a" style="left:305px;top:568px;width:138px;height:11px;background:#c9d9f6"></div>
<div class="a" style="left:443px;top:568px;width:69px;height:11px;background:#e9f0fe"></div>
<div class="a" style="left:512px;top:568px;width:138px;height:11px;background:#c9d9f6"></div>
<div class="a" style="left:650px;top:568px;width:68px;height:11px;background:#e9f0fe"></div>
<div class="a" style="left:718px;top:568px;width:207px;height:11px;background:#c9d9f6"></div>
<div class="a" style="left:925px;top:568px;width:12px;height:11px;background:#a9c4f4"></div>
<div class="a" style="left:5px;top:579px;width:920px;height:11px;background:#e7e7f0"></div>
<div class="a" style="left:925px;top:579px;width:12px;height:11px;background:#a9c4f4"></div>
<div class="a" style="left:5px;top:590px;width:42px;height:11px;background:#c9d9f6"></div>
<div class="a" style="left:47px;top:590px;width:12px;height:11px;background:#a9c4f4"></div>
<div class="a" style="left:59px;top:590px;width:246px;height:11px;background:#e9f0fe"></div>
<div class="a" style="left:305px;top:590px;width:138px;height:11px;background:#c9d9f6"></div>
<div class="a" style="left:443px;top:590px;width:69px;height:11px;background:#e9f0fe"></div>
<div class="a" style="left:512px;top:590px;width:138px;height:11px;background:#c9d9f6"></div>
<div class="a" style="left:650px;top:590px;width:68px;height:11px;background:#e9f0fe"></div>
<div class="a" style="left:718px;top:590px;width:207px;height:11px;background:#c9d9f6"></div>
<div class="a" style="left:925px;top:590px;width:12px;height:11px;background:#a9c4f4"></div>
<div class="a" style="left:5px;top:601px;width:920px;height:11px;background:#e7e7f0"></div>
<div class="a" style="left:925px;top:601px;width:12px;height:11px;background:#a9c4f4"></div>
<div class="a" style="left:5px;top:612px;width:42px;height:10px;background:#c9d9f6"></div>
<div class="a" style="left:47px;top:612px;width:12px;height:10px;background:#a9c4f4"></div>
<div class="a" style="left:59px;top:612px;width:246px;height:10px;background:#e9f0fe"></div>
<div class="a" style="left:305px;top:612px;width:138px;height:10px;background:#c9d9f6"></div>
<div class="a" style="left:443px;top:612px;width:69px;height:10px;background:#e9f0fe"></div>
<div class="a" style="left:512px;top:612px;width:138px;height:10px;background:#c9d9f6"></div>
<div class="a" style="left:650px;top:612px;width:68px;height:10px;background:#e9f0fe"></div>
<div class="a" style="left:718px;top:612px;width:207px;height:10px;background:#c9d9f6"></div>
<div class="a" style="left:925px;top:612px;width:12px;height:10px;background:#a9c4f4"></div>
<div class="a" style="left:5px;top:622px;width:920px;height:11px;background:#e7e7f0"></div>
<div class="a" style="left:925px;top:622px;width:12px;height:11px;background:#a9c4f4"></div>
<div class="a" style="left:5px;top:633px;width:42px;height:11px;background:#c9d9f6"></div>
<div class="a" style="left:47px;top:633px;width:12px;height:11px;background:#a9c4f4"></div>
<div class="a" style="left:59px;top:633px;width:246px;height:11px;background:#e9f0fe"></div>
<div class="a" style="left:305px;top:633px;width:138px;height:11px;background:#c9d9f6"></div>
<div class="a" style="left:443px;top:633px;width:69px;height:11px;background:#e9f0fe"></div>
<div class="a" style="left:512px;top:633px;width:138px;height:11px;background:#c9d9f6"></div>
<div class="a" style="left:650px;top:633px;width:68px;height:11px;background:#e9f0fe"></div>
<div class="a" style="left:718px;top:633px;width:207px;height:11px;background:#c9d9f6"></div>
<div class="a" style="left:925px;top:633px;width:12px;height:11px;background:#a9c4f4"></div>
<div class="a" style="left:5px;top:190px;width:920px;height:1px;background:#c6c6ce"></div>
<div class="a" style="left:5px;top:201px;width:920px;height:1px;background:#c6c6ce"></div>
<div class="a" style="left:5px;top:212px;width:920px;height:1px;background:#c6c6ce"></div>
<div class="a" style="left:5px;top:223px;width:920px;height:1px;background:#c6c6ce"></div>
<div class="a" style="left:5px;top:234px;width:920px;height:1px;background:#c6c6ce"></div>
<div class="a" style="left:5px;top:244px;width:920px;height:1px;background:#c6c6ce"></div>
<div class="a" style="left:5px;top:255px;width:920px;height:1px;background:#c6c6ce"></div>
<div class="a" style="left:5px;top:266px;width:920px;height:1px;background:#c6c6ce"></div>
<div class="a" style="left:5px;top:277px;width:920px;height:1px;background:#c6c6ce"></div>
<div class="a" style="left:5px;top:288px;width:920px;height:1px;background:#c6c6ce"></div>
<div class="a" style="left:5px;top:298px;width:920px;height:1px;background:#c6c6ce"></div>
<div class="a" style="left:5px;top:309px;width:920px;height:1px;background:#c6c6ce"></div>
<div class="a" style="left:5px;top:320px;width:920px;height:1px;background:#c6c6ce"></div>
<div class="a" style="left:5px;top:331px;width:920px;height:1px;background:#c6c6ce"></div>
<div class="a" style="left:5px;top:342px;width:920px;height:1px;background:#c6c6ce"></div>
<div class="a" style="left:5px;top:352px;width:920px;height:1px;background:#c6c6ce"></div>
<div class="a" style="left:5px;top:363px;width:920px;height:1px;background:#c6c6ce"></div>
<div class="a" style="left:5px;top:374px;width:920px;height:1px;background:#c6c6ce"></div>
<div class="a" style="left:5px;top:385px;width:920px;height:1px;background:#c6c6ce"></div>
<div class="a" style="left:5px;top:396px;width:920px;height:1px;background:#c6c6ce"></div>
<div class="a" style="left:5px;top:406px;width:920px;height:1px;background:#c6c6ce"></div>
<div class="a" style="left:5px;top:417px;width:920px;height:1px;background:#c6c6ce"></div>
<div class="a" style="left:5px;top:428px;width:920px;height:1px;background:#c6c6ce"></div>
<div class="a" style="left:5px;top:439px;width:920px;height:1px;background:#c6c6ce"></div>
<div class="a" style="left:5px;top:450px;width:920px;height:1px;background:#c6c6ce"></div>
<div class="a" style="left:5px;top:460px;width:920px;height:1px;background:#c6c6ce"></div>
<div class="a" style="left:5px;top:471px;width:920px;height:1px;background:#c6c6ce"></div>
<div class="a" style="left:5px;top:482px;width:920px;height:1px;background:#c6c6ce"></div>
<div class="a" style="left:5px;top:493px;width:920px;height:1px;background:#c6c6ce"></div>
<div class="a" style="left:5px;top:504px;width:920px;height:1px;background:#c6c6ce"></div>
<div class="a" style="left:5px;top:514px;width:920px;height:1px;background:#c6c6ce"></div>
<div class="a" style="left:5px;top:525px;width:920px;height:1px;background:#c6c6ce"></div>
<div class="a" style="left:5px;top:536px;width:920px;height:1px;background:#c6c6ce"></div>
<div class="a" style="left:5px;top:547px;width:920px;height:1px;background:#c6c6ce"></div>
<div class="a" style="left:5px;top:558px;width:920px;height:1px;background:#c6c6ce"></div>
<div class="a" style="left:5px;top:568px;width:920px;height:1px;background:#c6c6ce"></div>
<div class="a" style="left:5px;top:579px;width:920px;height:1px;background:#c6c6ce"></div>
<div class="a" style="left:5px;top:590px;width:920px;height:1px;background:#c6c6ce"></div>
<div class="a" style="left:5px;top:601px;width:920px;height:1px;background:#c6c6ce"></div>
<div class="a" style="left:5px;top:612px;width:920px;height:1px;background:#c6c6ce"></div>
<div class="a" style="left:5px;top:622px;width:920px;height:1px;background:#c6c6ce"></div>
<div class="a" style="left:5px;top:633px;width:920px;height:1px;background:#c6c6ce"></div>
<div class="a" style="left:5px;top:190px;width:1px;height:443px;background:#c6c6ce"></div>
<div class="a" style="left:23px;top:190px;width:1px;height:443px;background:#c6c6ce"></div>
<div class="a" style="left:47px;top:190px;width:1px;height:443px;background:#c6c6ce"></div>
<div class="a" style="left:59px;top:190px;width:1px;height:443px;background:#c6c6ce"></div>
<div class="a" style="left:182px;top:190px;width:1px;height:443px;background:#c6c6ce"></div>
<div class="a" style="left:305px;top:190px;width:1px;height:443px;background:#c6c6ce"></div>
<div class="a" style="left:374px;top:190px;width:1px;height:443px;background:#c6c6ce"></div>
<div class="a" style="left:443px;top:190px;width:1px;height:443px;background:#c6c6ce"></div>
<div class="a" style="left:512px;top:190px;width:1px;height:443px;background:#c6c6ce"></div>
<div class="a" style="left:581px;top:190px;width:1px;height:443px;background:#c6c6ce"></div>
<div class="a" style="left:650px;top:190px;width:1px;height:443px;background:#c6c6ce"></div>
<div class="a" style="left:718px;top:190px;width:1px;height:443px;background:#c6c6ce"></div>
<div class="a" style="left:787px;top:190px;width:1px;height:443px;background:#c6c6ce"></div>
<div class="a" style="left:856px;top:190px;width:1px;height:443px;background:#c6c6ce"></div>
<div class="a" style="left:925px;top:190px;width:1px;height:443px;background:#c6c6ce"></div>
<div class="t" style="left:7.0px;top:191.9px;width:17px">1</div>
<div class="t" style="left:24.2px;top:191.9px;width:23px">P</div>
<div class="t" style="left:60.4px;top:191.9px;width:122px;letter-spacing:-0.13px">Reli-Et</div>
<div class="t" style="left:183.1px;top:191.9px;width:122px;letter-spacing:-0.13px">(Fachkategorie)</div>
<div class="t" style="left:306.4px;top:191.9px;width:68px">1,00</div>
<div class="t" style="left:375.5px;top:191.9px;width:68px">1,00</div>
<div class="t" style="left:444.1px;top:191.9px;width:68px">1,00</div>
<div class="t" style="left:513.6px;top:191.9px;width:68px">1,00</div>
<div class="t" style="left:582.6px;top:191.9px;width:68px">1,00</div>
<div class="t" style="left:651.0px;top:191.9px;width:67px">1,00</div>
<div class="t" style="left:719.5px;top:191.9px;width:68px">2,00</div>
<div class="t" style="left:788.5px;top:191.9px;width:68px">2,00</div>
<div class="t" style="left:857.1px;top:191.9px;width:68px">2,00</div>
<div class="pb" style="left:48px;top:190.5px;height:11px"><i></i></div>
<div class="t" style="left:7.0px;top:202.9px;width:17px">1.0</div>
<div class="t" style="left:24.2px;top:202.9px;width:23px">P</div>
<div class="t" style="left:60.4px;top:202.9px;width:122px;letter-spacing:-0.13px">Rel Et Schulintern</div>
<div class="t" style="left:444.1px;top:202.9px;width:68px">1,00</div>
<div class="t" style="left:651.0px;top:202.9px;width:67px">1,00</div>
<div class="t" style="left:719.5px;top:202.9px;width:68px">0,00</div>
<div class="t" style="left:788.5px;top:202.9px;width:68px">0,00</div>
<div class="t" style="left:857.1px;top:202.9px;width:68px">2,00</div>
<div class="xb" style="left:925px;top:201.5px;height:11px"><svg width="10" height="9" viewBox="0 0 10 9"><path d="M2.2 1.8 L7.8 7.2 M7.8 1.8 L2.2 7.2" stroke="#f23a40" stroke-width="2.3" stroke-linecap="round"/></svg></div>
<div class="t" style="left:7.0px;top:213.9px;width:17px">2</div>
<div class="t" style="left:24.2px;top:213.9px;width:23px">P</div>
<div class="t" style="left:183.1px;top:213.9px;width:122px;letter-spacing:-0.13px">Gesch.m.Gem.-Kunde</div>
<div class="t" style="left:306.4px;top:213.9px;width:68px">2,00</div>
<div class="t" style="left:375.5px;top:213.9px;width:68px">2,00</div>
<div class="t" style="left:444.1px;top:213.9px;width:68px">2,00</div>
<div class="t" style="left:513.6px;top:213.9px;width:68px">1,00</div>
<div class="t" style="left:582.6px;top:213.9px;width:68px">1,00</div>
<div class="t" style="left:651.0px;top:213.9px;width:67px">1,00</div>
<div class="t" style="left:719.5px;top:213.9px;width:68px">3,00</div>
<div class="t" style="left:788.5px;top:213.9px;width:68px">3,00</div>
<div class="t" style="left:857.1px;top:213.9px;width:68px">3,00</div>
<div class="pb" style="left:48px;top:212.5px;height:11px"><i></i></div>
<div class="t" style="left:7.0px;top:224.9px;width:17px">2.0</div>
<div class="t" style="left:24.2px;top:224.9px;width:23px">P</div>
<div class="t" style="left:183.1px;top:224.9px;width:122px;letter-spacing:-0.13px">Gesch.m.Gem.-Kunde</div>
<div class="t" style="left:444.1px;top:224.9px;width:68px">2,00</div>
<div class="t" style="left:651.0px;top:224.9px;width:67px">1,00</div>
<div class="t" style="left:719.5px;top:224.9px;width:68px">0,00</div>
<div class="t" style="left:788.5px;top:224.9px;width:68px">0,00</div>
<div class="t" style="left:857.1px;top:224.9px;width:68px">3,00</div>
<div class="xb" style="left:925px;top:223.5px;height:11px"><svg width="10" height="9" viewBox="0 0 10 9"><path d="M2.2 1.8 L7.8 7.2 M7.8 1.8 L2.2 7.2" stroke="#f23a40" stroke-width="2.3" stroke-linecap="round"/></svg></div>
<div class="t" style="left:7.0px;top:235.9px;width:17px">3</div>
<div class="t" style="left:24.2px;top:235.9px;width:23px">P</div>
<div class="t" style="left:183.1px;top:235.9px;width:122px;letter-spacing:-0.13px">Deutsch mit Betriebl. Komm.</div>
<div class="t" style="left:306.4px;top:235.9px;width:68px">3,00</div>
<div class="t" style="left:375.5px;top:235.9px;width:68px">3,00</div>
<div class="t" style="left:444.1px;top:235.9px;width:68px">3,00</div>
<div class="t" style="left:719.5px;top:235.9px;width:68px">3,00</div>
<div class="t" style="left:788.5px;top:235.9px;width:68px">3,00</div>
<div class="t" style="left:857.1px;top:235.9px;width:68px">3,00</div>
<div class="pb" style="left:48px;top:234.5px;height:10px"><i></i></div>
<div class="t" style="left:7.0px;top:245.9px;width:17px">3.0</div>
<div class="t" style="left:24.2px;top:245.9px;width:23px">P</div>
<div class="t" style="left:183.1px;top:245.9px;width:122px;letter-spacing:-0.13px">Deutsch mit Betriebl. Komm.</div>
<div class="t" style="left:444.1px;top:245.9px;width:68px">3,00</div>
<div class="t" style="left:719.5px;top:245.9px;width:68px">0,00</div>
<div class="t" style="left:788.5px;top:245.9px;width:68px">0,00</div>
<div class="t" style="left:857.1px;top:245.9px;width:68px">3,00</div>
<div class="xb" style="left:925px;top:244.5px;height:11px"><svg width="10" height="9" viewBox="0 0 10 9"><path d="M2.2 1.8 L7.8 7.2 M7.8 1.8 L2.2 7.2" stroke="#f23a40" stroke-width="2.3" stroke-linecap="round"/></svg></div>
<div class="t" style="left:7.0px;top:256.9px;width:17px">4</div>
<div class="t" style="left:24.2px;top:256.9px;width:23px">P</div>
<div class="t" style="left:183.1px;top:256.9px;width:122px;letter-spacing:-0.13px">Englisch</div>
<div class="t" style="left:306.4px;top:256.9px;width:68px">3,00</div>
<div class="t" style="left:375.5px;top:256.9px;width:68px">3,00</div>
<div class="t" style="left:444.1px;top:256.9px;width:68px">3,00</div>
<div class="t" style="left:513.6px;top:256.9px;width:68px">3,00</div>
<div class="t" style="left:582.6px;top:256.9px;width:68px">3,00</div>
<div class="t" style="left:651.0px;top:256.9px;width:67px">3,00</div>
<div class="t" style="left:719.5px;top:256.9px;width:68px">6,00</div>
<div class="t" style="left:788.5px;top:256.9px;width:68px">6,00</div>
<div class="t" style="left:857.1px;top:256.9px;width:68px">6,00</div>
<div class="pb" style="left:48px;top:255.5px;height:11px"><i></i></div>
<div class="t" style="left:7.0px;top:267.9px;width:17px">4.0</div>
<div class="t" style="left:24.2px;top:267.9px;width:23px">P</div>
<div class="t" style="left:183.1px;top:267.9px;width:122px;letter-spacing:-0.13px">Englisch</div>
<div class="t" style="left:444.1px;top:267.9px;width:68px">3,00</div>
<div class="t" style="left:651.0px;top:267.9px;width:67px">3,00</div>
<div class="t" style="left:719.5px;top:267.9px;width:68px">0,00</div>
<div class="t" style="left:788.5px;top:267.9px;width:68px">0,00</div>
<div class="t" style="left:857.1px;top:267.9px;width:68px">6,00</div>
<div class="xb" style="left:925px;top:266.5px;height:11px"><svg width="10" height="9" viewBox="0 0 10 9"><path d="M2.2 1.8 L7.8 7.2 M7.8 1.8 L2.2 7.2" stroke="#f23a40" stroke-width="2.3" stroke-linecap="round"/></svg></div>
<div class="t" style="left:7.0px;top:278.9px;width:17px">5</div>
<div class="t" style="left:24.2px;top:278.9px;width:23px">P</div>
<div class="t" style="left:183.1px;top:278.9px;width:122px;letter-spacing:-0.13px">Mathematik</div>
<div class="t" style="left:306.4px;top:278.9px;width:68px">2,00</div>
<div class="t" style="left:375.5px;top:278.9px;width:68px">2,00</div>
<div class="t" style="left:444.1px;top:278.9px;width:68px">2,00</div>
<div class="t" style="left:513.6px;top:278.9px;width:68px">4,00</div>
<div class="t" style="left:582.6px;top:278.9px;width:68px">4,00</div>
<div class="t" style="left:651.0px;top:278.9px;width:67px">4,00</div>
<div class="t" style="left:719.5px;top:278.9px;width:68px">6,00</div>
<div class="t" style="left:788.5px;top:278.9px;width:68px">6,00</div>
<div class="t" style="left:857.1px;top:278.9px;width:68px">6,00</div>
<div class="pb" style="left:48px;top:277.5px;height:11px"><i></i></div>
<div class="t" style="left:7.0px;top:289.9px;width:17px">5.0</div>
<div class="t" style="left:24.2px;top:289.9px;width:23px">P</div>
<div class="t" style="left:183.1px;top:289.9px;width:122px;letter-spacing:-0.13px">Mathematik</div>
<div class="t" style="left:444.1px;top:289.9px;width:68px">2,00</div>
<div class="t" style="left:651.0px;top:289.9px;width:67px">4,00</div>
<div class="t" style="left:719.5px;top:289.9px;width:68px">0,00</div>
<div class="t" style="left:788.5px;top:289.9px;width:68px">0,00</div>
<div class="t" style="left:857.1px;top:289.9px;width:68px">6,00</div>
<div class="xb" style="left:925px;top:288.5px;height:10px"><svg width="10" height="9" viewBox="0 0 10 9"><path d="M2.2 1.8 L7.8 7.2 M7.8 1.8 L2.2 7.2" stroke="#f23a40" stroke-width="2.3" stroke-linecap="round"/></svg></div>
<div class="t" style="left:7.0px;top:299.9px;width:17px">6</div>
<div class="t" style="left:24.2px;top:299.9px;width:23px">P</div>
<div class="t" style="left:183.1px;top:299.9px;width:122px;letter-spacing:-0.13px">Wirtschaft und Management</div>
<div class="t" style="left:306.4px;top:299.9px;width:68px">2,00</div>
<div class="t" style="left:375.5px;top:299.9px;width:68px">2,00</div>
<div class="t" style="left:444.1px;top:299.9px;width:68px">2,00</div>
<div class="t" style="left:513.6px;top:299.9px;width:68px">4,00</div>
<div class="t" style="left:582.6px;top:299.9px;width:68px">4,00</div>
<div class="t" style="left:651.0px;top:299.9px;width:67px">4,00</div>
<div class="t" style="left:719.5px;top:299.9px;width:68px">6,00</div>
<div class="t" style="left:788.5px;top:299.9px;width:68px">6,00</div>
<div class="t" style="left:857.1px;top:299.9px;width:68px">6,00</div>
<div class="pb" style="left:48px;top:298.5px;height:11px"><i></i></div>
<div class="t" style="left:7.0px;top:310.9px;width:17px">6.0</div>
<div class="t" style="left:24.2px;top:310.9px;width:23px">P</div>
<div class="t" style="left:183.1px;top:310.9px;width:122px;letter-spacing:-0.13px">Wirtschaft und Management</div>
<div class="t" style="left:444.1px;top:310.9px;width:68px">2,00</div>
<div class="t" style="left:651.0px;top:310.9px;width:67px">4,00</div>
<div class="t" style="left:719.5px;top:310.9px;width:68px">0,00</div>
<div class="t" style="left:788.5px;top:310.9px;width:68px">0,00</div>
<div class="t" style="left:857.1px;top:310.9px;width:68px">6,00</div>
<div class="xb" style="left:925px;top:309.5px;height:11px"><svg width="10" height="9" viewBox="0 0 10 9"><path d="M2.2 1.8 L7.8 7.2 M7.8 1.8 L2.2 7.2" stroke="#f23a40" stroke-width="2.3" stroke-linecap="round"/></svg></div>
<div class="t" style="left:7.0px;top:321.9px;width:17px">7</div>
<div class="t" style="left:24.2px;top:321.9px;width:23px">P</div>
<div class="t" style="left:183.1px;top:321.9px;width:122px;letter-spacing:-0.13px">Daten-/Textverarb.</div>
<div class="t" style="left:306.4px;top:321.9px;width:68px">2,00</div>
<div class="t" style="left:375.5px;top:321.9px;width:68px">2,00</div>
<div class="t" style="left:444.1px;top:321.9px;width:68px">2,00</div>
<div class="t" style="left:719.5px;top:321.9px;width:68px">2,00</div>
<div class="t" style="left:788.5px;top:321.9px;width:68px">2,00</div>
<div class="t" style="left:857.1px;top:321.9px;width:68px">2,00</div>
<div class="pb" style="left:48px;top:320.5px;height:11px"><i></i></div>
<div class="t" style="left:7.0px;top:332.9px;width:17px">7.0</div>
<div class="t" style="left:24.2px;top:332.9px;width:23px">P</div>
<div class="t" style="left:183.1px;top:332.9px;width:122px;letter-spacing:-0.13px">Daten-/Textverarb.</div>
<div class="t" style="left:444.1px;top:332.9px;width:68px">2,00</div>
<div class="t" style="left:719.5px;top:332.9px;width:68px">0,00</div>
<div class="t" style="left:788.5px;top:332.9px;width:68px">0,00</div>
<div class="t" style="left:857.1px;top:332.9px;width:68px">2,00</div>
<div class="xb" style="left:925px;top:331.5px;height:11px"><svg width="10" height="9" viewBox="0 0 10 9"><path d="M2.2 1.8 L7.8 7.2 M7.8 1.8 L2.2 7.2" stroke="#f23a40" stroke-width="2.3" stroke-linecap="round"/></svg></div>
<div class="t" style="left:7.0px;top:343.9px;width:17px">8</div>
<div class="t" style="left:24.2px;top:343.9px;width:23px">P</div>
<div class="t" style="left:183.1px;top:343.9px;width:122px;letter-spacing:-0.13px">Chemie</div>
<div class="t" style="left:306.4px;top:343.9px;width:68px">2,00</div>
<div class="t" style="left:375.5px;top:343.9px;width:68px">2,00</div>
<div class="t" style="left:444.1px;top:343.9px;width:68px">2,00</div>
<div class="t" style="left:513.6px;top:343.9px;width:68px">1,00</div>
<div class="t" style="left:582.6px;top:343.9px;width:68px">1,00</div>
<div class="t" style="left:651.0px;top:343.9px;width:67px">1,00</div>
<div class="t" style="left:719.5px;top:343.9px;width:68px">3,00</div>
<div class="t" style="left:788.5px;top:343.9px;width:68px">3,00</div>
<div class="t" style="left:857.1px;top:343.9px;width:68px">3,00</div>
<div class="pb" style="left:48px;top:342.5px;height:10px"><i></i></div>
<div class="t" style="left:7.0px;top:353.9px;width:17px">8.0</div>
<div class="t" style="left:24.2px;top:353.9px;width:23px">P</div>
<div class="t" style="left:183.1px;top:353.9px;width:122px;letter-spacing:-0.13px">Chemie</div>
<div class="t" style="left:444.1px;top:353.9px;width:68px">2,00</div>
<div class="t" style="left:651.0px;top:353.9px;width:67px">1,00</div>
<div class="t" style="left:719.5px;top:353.9px;width:68px">0,00</div>
<div class="t" style="left:788.5px;top:353.9px;width:68px">0,00</div>
<div class="t" style="left:857.1px;top:353.9px;width:68px">3,00</div>
<div class="xb" style="left:925px;top:352.5px;height:11px"><svg width="10" height="9" viewBox="0 0 10 9"><path d="M2.2 1.8 L7.8 7.2 M7.8 1.8 L2.2 7.2" stroke="#f23a40" stroke-width="2.3" stroke-linecap="round"/></svg></div>
<div class="t" style="left:7.0px;top:364.9px;width:17px">9</div>
<div class="t" style="left:24.2px;top:364.9px;width:23px">P</div>
<div class="t" style="left:183.1px;top:364.9px;width:122px;letter-spacing:-0.13px">Projektkompetenz</div>
<div class="t" style="left:306.4px;top:364.9px;width:68px">0,00</div>
<div class="t" style="left:375.5px;top:364.9px;width:68px">0,00</div>
<div class="t" style="left:444.1px;top:364.9px;width:68px">0,00</div>
<div class="t" style="left:513.6px;top:364.9px;width:68px">0,00</div>
<div class="t" style="left:582.6px;top:364.9px;width:68px">0,00</div>
<div class="t" style="left:651.0px;top:364.9px;width:67px">0,00</div>
<div class="t" style="left:719.5px;top:364.9px;width:68px">0,00</div>
<div class="t" style="left:788.5px;top:364.9px;width:68px">0,00</div>
<div class="t" style="left:857.1px;top:364.9px;width:68px">0,00</div>
<div class="pb" style="left:48px;top:363.5px;height:11px"><i></i></div>
<div class="t" style="left:7.0px;top:375.9px;width:17px">9.0</div>
<div class="t" style="left:24.2px;top:375.9px;width:23px">P</div>
<div class="t" style="left:183.1px;top:375.9px;width:122px;letter-spacing:-0.13px">Projektkompetenz</div>
<div class="t" style="left:444.1px;top:375.9px;width:68px">0,00</div>
<div class="t" style="left:651.0px;top:375.9px;width:67px">0,00</div>
<div class="t" style="left:719.5px;top:375.9px;width:68px">0,00</div>
<div class="t" style="left:788.5px;top:375.9px;width:68px">0,00</div>
<div class="t" style="left:857.1px;top:375.9px;width:68px">0,00</div>
<div class="xb" style="left:925px;top:374.5px;height:11px"><svg width="10" height="9" viewBox="0 0 10 9"><path d="M2.2 1.8 L7.8 7.2 M7.8 1.8 L2.2 7.2" stroke="#f23a40" stroke-width="2.3" stroke-linecap="round"/></svg></div>
<div class="t" style="left:7.0px;top:386.9px;width:17px">10</div>
<div class="t" style="left:24.2px;top:386.9px;width:23px">P</div>
<div class="t" style="left:183.1px;top:386.9px;width:122px;letter-spacing:-0.13px">Grundlg. hauswirt. Handelns erfahr. u. ...</div>
<div class="t" style="left:306.4px;top:386.9px;width:68px">1,50</div>
<div class="t" style="left:375.5px;top:386.9px;width:68px">1,50</div>
<div class="t" style="left:444.1px;top:386.9px;width:68px">1,50</div>
<div class="t" style="left:719.5px;top:386.9px;width:68px">1,50</div>
<div class="t" style="left:788.5px;top:386.9px;width:68px">1,50</div>
<div class="t" style="left:857.1px;top:386.9px;width:68px">1,50</div>
<div class="pb" style="left:48px;top:385.5px;height:11px"><i></i></div>
<div class="t" style="left:7.0px;top:397.9px;width:17px">10.0</div>
<div class="t" style="left:24.2px;top:397.9px;width:23px">P</div>
<div class="t" style="left:183.1px;top:397.9px;width:122px;letter-spacing:-0.13px">Grundlg. hauswirt. Handelns erfahr. u. ...</div>
<div class="t" style="left:444.1px;top:397.9px;width:68px">1,50</div>
<div class="t" style="left:719.5px;top:397.9px;width:68px">0,00</div>
<div class="t" style="left:788.5px;top:397.9px;width:68px">0,00</div>
<div class="t" style="left:857.1px;top:397.9px;width:68px">1,50</div>
<div class="xb" style="left:925px;top:396.5px;height:10px"><svg width="10" height="9" viewBox="0 0 10 9"><path d="M2.2 1.8 L7.8 7.2 M7.8 1.8 L2.2 7.2" stroke="#f23a40" stroke-width="2.3" stroke-linecap="round"/></svg></div>
<div class="t" style="left:7.0px;top:407.9px;width:17px">11</div>
<div class="t" style="left:24.2px;top:407.9px;width:23px">P</div>
<div class="t" style="left:183.1px;top:407.9px;width:122px;letter-spacing:-0.13px">Verpfleg.mg u.pers.betr. Dienstl. pl.u.u...</div>
<div class="t" style="left:306.4px;top:407.9px;width:68px">2,00</div>
<div class="t" style="left:375.5px;top:407.9px;width:68px">2,00</div>
<div class="t" style="left:444.1px;top:407.9px;width:68px">2,00</div>
<div class="t" style="left:513.6px;top:407.9px;width:68px">4,50</div>
<div class="t" style="left:582.6px;top:407.9px;width:68px">4,50</div>
<div class="t" style="left:651.0px;top:407.9px;width:67px">4,50</div>
<div class="t" style="left:719.5px;top:407.9px;width:68px">6,50</div>
<div class="t" style="left:788.5px;top:407.9px;width:68px">6,50</div>
<div class="t" style="left:857.1px;top:407.9px;width:68px">6,50</div>
<div class="pb" style="left:48px;top:406.5px;height:11px"><i></i></div>
<div class="t" style="left:7.0px;top:418.9px;width:17px">11.0</div>
<div class="t" style="left:24.2px;top:418.9px;width:23px">P</div>
<div class="t" style="left:183.1px;top:418.9px;width:122px;letter-spacing:-0.13px">Verpfleg.mg u.pers.betr. Dienstl. pl.u.u...</div>
<div class="t" style="left:444.1px;top:418.9px;width:68px">2,00</div>
<div class="t" style="left:651.0px;top:418.9px;width:67px">4,50</div>
<div class="t" style="left:719.5px;top:418.9px;width:68px">0,00</div>
<div class="t" style="left:788.5px;top:418.9px;width:68px">0,00</div>
<div class="t" style="left:857.1px;top:418.9px;width:68px">6,50</div>
<div class="xb" style="left:925px;top:417.5px;height:11px"><svg width="10" height="9" viewBox="0 0 10 9"><path d="M2.2 1.8 L7.8 7.2 M7.8 1.8 L2.2 7.2" stroke="#f23a40" stroke-width="2.3" stroke-linecap="round"/></svg></div>
<div class="t" style="left:7.0px;top:429.9px;width:17px">12</div>
<div class="t" style="left:24.2px;top:429.9px;width:23px">P</div>
<div class="t" style="left:183.1px;top:429.9px;width:122px;letter-spacing:-0.13px">Serviceorientierte Dienstleistungen anb...</div>
<div class="t" style="left:306.4px;top:429.9px;width:68px">2,00</div>
<div class="t" style="left:375.5px;top:429.9px;width:68px">2,00</div>
<div class="t" style="left:444.1px;top:429.9px;width:68px">2,00</div>
<div class="t" style="left:513.6px;top:429.9px;width:68px">1,50</div>
<div class="t" style="left:582.6px;top:429.9px;width:68px">1,50</div>
<div class="t" style="left:651.0px;top:429.9px;width:67px">1,50</div>
<div class="t" style="left:719.5px;top:429.9px;width:68px">3,50</div>
<div class="t" style="left:788.5px;top:429.9px;width:68px">3,50</div>
<div class="t" style="left:857.1px;top:429.9px;width:68px">3,50</div>
<div class="pb" style="left:48px;top:428.5px;height:11px"><i></i></div>
<div class="t" style="left:7.0px;top:440.9px;width:17px">12.0</div>
<div class="t" style="left:24.2px;top:440.9px;width:23px">P</div>
<div class="t" style="left:183.1px;top:440.9px;width:122px;letter-spacing:-0.13px">Serviceorientierte Dienstleistungen anb...</div>
<div class="t" style="left:444.1px;top:440.9px;width:68px">2,00</div>
<div class="t" style="left:651.0px;top:440.9px;width:67px">1,50</div>
<div class="t" style="left:719.5px;top:440.9px;width:68px">0,00</div>
<div class="t" style="left:788.5px;top:440.9px;width:68px">0,00</div>
<div class="t" style="left:857.1px;top:440.9px;width:68px">3,50</div>
<div class="xb" style="left:925px;top:439.5px;height:11px"><svg width="10" height="9" viewBox="0 0 10 9"><path d="M2.2 1.8 L7.8 7.2 M7.8 1.8 L2.2 7.2" stroke="#f23a40" stroke-width="2.3" stroke-linecap="round"/></svg></div>
<div class="t" style="left:7.0px;top:451.9px;width:17px">13</div>
<div class="t" style="left:24.2px;top:451.9px;width:23px">P</div>
<div class="t" style="left:183.1px;top:451.9px;width:122px;letter-spacing:-0.13px">Wohnumfeld zielgruppengerecht gestal...</div>
<div class="t" style="left:306.4px;top:451.9px;width:68px">1,50</div>
<div class="t" style="left:375.5px;top:451.9px;width:68px">1,50</div>
<div class="t" style="left:444.1px;top:451.9px;width:68px">1,50</div>
<div class="t" style="left:719.5px;top:451.9px;width:68px">1,50</div>
<div class="t" style="left:788.5px;top:451.9px;width:68px">1,50</div>
<div class="t" style="left:857.1px;top:451.9px;width:68px">1,50</div>
<div class="pb" style="left:48px;top:450.5px;height:10px"><i></i></div>
<div class="t" style="left:7.0px;top:461.9px;width:17px">13.0</div>
<div class="t" style="left:24.2px;top:461.9px;width:23px">P</div>
<div class="t" style="left:183.1px;top:461.9px;width:122px;letter-spacing:-0.13px">Wohnumfeld zielgruppengerecht gestal...</div>
<div class="t" style="left:444.1px;top:461.9px;width:68px">1,50</div>
<div class="t" style="left:719.5px;top:461.9px;width:68px">0,00</div>
<div class="t" style="left:788.5px;top:461.9px;width:68px">0,00</div>
<div class="t" style="left:857.1px;top:461.9px;width:68px">1,50</div>
<div class="xb" style="left:925px;top:460.5px;height:11px"><svg width="10" height="9" viewBox="0 0 10 9"><path d="M2.2 1.8 L7.8 7.2 M7.8 1.8 L2.2 7.2" stroke="#f23a40" stroke-width="2.3" stroke-linecap="round"/></svg></div>
<div class="t" style="left:7.0px;top:472.9px;width:17px">14</div>
<div class="t" style="left:24.2px;top:472.9px;width:23px">P</div>
<div class="t" style="left:183.1px;top:472.9px;width:122px;letter-spacing:-0.13px">Grundlg. hauswirt. Handelns erfahr. u. ...</div>
<div class="t" style="left:306.4px;top:472.9px;width:68px">2,00</div>
<div class="t" style="left:375.5px;top:472.9px;width:68px">2,00</div>
<div class="t" style="left:444.1px;top:472.9px;width:68px">2,00</div>
<div class="t" style="left:719.5px;top:472.9px;width:68px">2,00</div>
<div class="t" style="left:788.5px;top:472.9px;width:68px">2,00</div>
<div class="t" style="left:857.1px;top:472.9px;width:68px">2,00</div>
<div class="pb" style="left:48px;top:471.5px;height:11px"><i></i></div>
<div class="t" style="left:7.0px;top:483.9px;width:17px">14.0</div>
<div class="t" style="left:24.2px;top:483.9px;width:23px">P</div>
<div class="t" style="left:183.1px;top:483.9px;width:122px;letter-spacing:-0.13px">Grundlg. hauswirt. Handelns erfahr. u. ...</div>
<div class="t" style="left:444.1px;top:483.9px;width:68px">2,00</div>
<div class="t" style="left:719.5px;top:483.9px;width:68px">0,00</div>
<div class="t" style="left:788.5px;top:483.9px;width:68px">0,00</div>
<div class="t" style="left:857.1px;top:483.9px;width:68px">2,00</div>
<div class="xb" style="left:925px;top:482.5px;height:11px"><svg width="10" height="9" viewBox="0 0 10 9"><path d="M2.2 1.8 L7.8 7.2 M7.8 1.8 L2.2 7.2" stroke="#f23a40" stroke-width="2.3" stroke-linecap="round"/></svg></div>
<div class="t" style="left:7.0px;top:494.9px;width:17px">15</div>
<div class="t" style="left:24.2px;top:494.9px;width:23px">P</div>
<div class="t" style="left:183.1px;top:494.9px;width:122px;letter-spacing:-0.13px">Verpfleg.mg u.pers.betr. Dienstl. pl.u.u...</div>
<div class="t" style="left:306.4px;top:494.9px;width:68px">2,00</div>
<div class="t" style="left:375.5px;top:494.9px;width:68px">2,00</div>
<div class="t" style="left:444.1px;top:494.9px;width:68px">2,00</div>
<div class="t" style="left:513.6px;top:494.9px;width:68px">6,00</div>
<div class="t" style="left:582.6px;top:494.9px;width:68px">6,00</div>
<div class="t" style="left:651.0px;top:494.9px;width:67px">6,00</div>
<div class="t" style="left:719.5px;top:494.9px;width:68px">8,00</div>
<div class="t" style="left:788.5px;top:494.9px;width:68px">8,00</div>
<div class="t" style="left:857.1px;top:494.9px;width:68px">8,00</div>
<div class="pb" style="left:48px;top:493.5px;height:11px"><i></i></div>
<div class="t" style="left:7.0px;top:505.9px;width:17px">15.0</div>
<div class="t" style="left:24.2px;top:505.9px;width:23px">P</div>
<div class="t" style="left:183.1px;top:505.9px;width:122px;letter-spacing:-0.13px">Verpfleg.mg u.pers.betr. Dienstl. pl.u.u...</div>
<div class="t" style="left:444.1px;top:505.9px;width:68px">2,00</div>
<div class="t" style="left:651.0px;top:505.9px;width:67px">6,00</div>
<div class="t" style="left:719.5px;top:505.9px;width:68px">0,00</div>
<div class="t" style="left:788.5px;top:505.9px;width:68px">0,00</div>
<div class="t" style="left:857.1px;top:505.9px;width:68px">8,00</div>
<div class="xb" style="left:925px;top:504.5px;height:10px"><svg width="10" height="9" viewBox="0 0 10 9"><path d="M2.2 1.8 L7.8 7.2 M7.8 1.8 L2.2 7.2" stroke="#f23a40" stroke-width="2.3" stroke-linecap="round"/></svg></div>
<div class="t" style="left:7.0px;top:515.9px;width:17px">16</div>
<div class="t" style="left:24.2px;top:515.9px;width:23px">P</div>
<div class="t" style="left:183.1px;top:515.9px;width:122px;letter-spacing:-0.13px">Serviceorientierte Dienstleistungen anb...</div>
<div class="t" style="left:306.4px;top:515.9px;width:68px">2,00</div>
<div class="t" style="left:375.5px;top:515.9px;width:68px">2,00</div>
<div class="t" style="left:444.1px;top:515.9px;width:68px">2,00</div>
<div class="t" style="left:513.6px;top:515.9px;width:68px">2,00</div>
<div class="t" style="left:582.6px;top:515.9px;width:68px">2,00</div>
<div class="t" style="left:651.0px;top:515.9px;width:67px">2,00</div>
<div class="t" style="left:719.5px;top:515.9px;width:68px">4,00</div>
<div class="t" style="left:788.5px;top:515.9px;width:68px">4,00</div>
<div class="t" style="left:857.1px;top:515.9px;width:68px">4,00</div>
<div class="pb" style="left:48px;top:514.5px;height:11px"><i></i></div>
<div class="t" style="left:7.0px;top:526.9px;width:17px">16.0</div>
<div class="t" style="left:24.2px;top:526.9px;width:23px">P</div>
<div class="t" style="left:183.1px;top:526.9px;width:122px;letter-spacing:-0.13px">Serviceorientierte Dienstleistungen anb...</div>
<div class="t" style="left:444.1px;top:526.9px;width:68px">2,00</div>
<div class="t" style="left:651.0px;top:526.9px;width:67px">2,00</div>
<div class="t" style="left:719.5px;top:526.9px;width:68px">0,00</div>
<div class="t" style="left:788.5px;top:526.9px;width:68px">0,00</div>
<div class="t" style="left:857.1px;top:526.9px;width:68px">4,00</div>
<div class="xb" style="left:925px;top:525.5px;height:11px"><svg width="10" height="9" viewBox="0 0 10 9"><path d="M2.2 1.8 L7.8 7.2 M7.8 1.8 L2.2 7.2" stroke="#f23a40" stroke-width="2.3" stroke-linecap="round"/></svg></div>
<div class="t" style="left:7.0px;top:537.9px;width:17px">17</div>
<div class="t" style="left:24.2px;top:537.9px;width:23px">P</div>
<div class="t" style="left:183.1px;top:537.9px;width:122px;letter-spacing:-0.13px">Wohnumfeld zielgruppengerecht gestal...</div>
<div class="t" style="left:306.4px;top:537.9px;width:68px">2,00</div>
<div class="t" style="left:375.5px;top:537.9px;width:68px">2,00</div>
<div class="t" style="left:444.1px;top:537.9px;width:68px">2,00</div>
<div class="t" style="left:719.5px;top:537.9px;width:68px">2,00</div>
<div class="t" style="left:788.5px;top:537.9px;width:68px">2,00</div>
<div class="t" style="left:857.1px;top:537.9px;width:68px">2,00</div>
<div class="pb" style="left:48px;top:536.5px;height:11px"><i></i></div>
<div class="t" style="left:7.0px;top:548.9px;width:17px">17.0</div>
<div class="t" style="left:24.2px;top:548.9px;width:23px">P</div>
<div class="t" style="left:183.1px;top:548.9px;width:122px;letter-spacing:-0.13px">Wohnumfeld zielgruppengerecht gestal...</div>
<div class="t" style="left:444.1px;top:548.9px;width:68px">2,00</div>
<div class="t" style="left:719.5px;top:548.9px;width:68px">0,00</div>
<div class="t" style="left:788.5px;top:548.9px;width:68px">0,00</div>
<div class="t" style="left:857.1px;top:548.9px;width:68px">2,00</div>
<div class="xb" style="left:925px;top:547.5px;height:11px"><svg width="10" height="9" viewBox="0 0 10 9"><path d="M2.2 1.8 L7.8 7.2 M7.8 1.8 L2.2 7.2" stroke="#f23a40" stroke-width="2.3" stroke-linecap="round"/></svg></div>
<div class="t" style="left:7.0px;top:559.9px;width:17px">18</div>
<div class="t" style="left:24.2px;top:559.9px;width:23px">P</div>
<div class="t" style="left:183.1px;top:559.9px;width:122px;letter-spacing:-0.13px">Projektarbeit</div>
<div class="t" style="left:306.4px;top:559.9px;width:68px">1,00</div>
<div class="t" style="left:375.5px;top:559.9px;width:68px">1,00</div>
<div class="t" style="left:444.1px;top:559.9px;width:68px">1,00</div>
<div class="t" style="left:513.6px;top:559.9px;width:68px">1,00</div>
<div class="t" style="left:582.6px;top:559.9px;width:68px">1,00</div>
<div class="t" style="left:651.0px;top:559.9px;width:67px">1,00</div>
<div class="t" style="left:719.5px;top:559.9px;width:68px">2,00</div>
<div class="t" style="left:788.5px;top:559.9px;width:68px">2,00</div>
<div class="t" style="left:857.1px;top:559.9px;width:68px">2,00</div>
<div class="pb" style="left:48px;top:558.5px;height:10px"><i></i></div>
<div class="t" style="left:7.0px;top:569.9px;width:17px">18.0</div>
<div class="t" style="left:24.2px;top:569.9px;width:23px">P</div>
<div class="t" style="left:183.1px;top:569.9px;width:122px;letter-spacing:-0.13px">Projektarbeit</div>
<div class="t" style="left:444.1px;top:569.9px;width:68px">1,00</div>
<div class="t" style="left:651.0px;top:569.9px;width:67px">1,00</div>
<div class="t" style="left:719.5px;top:569.9px;width:68px">0,00</div>
<div class="t" style="left:788.5px;top:569.9px;width:68px">0,00</div>
<div class="t" style="left:857.1px;top:569.9px;width:68px">2,00</div>
<div class="xb" style="left:925px;top:568.5px;height:11px"><svg width="10" height="9" viewBox="0 0 10 9"><path d="M2.2 1.8 L7.8 7.2 M7.8 1.8 L2.2 7.2" stroke="#f23a40" stroke-width="2.3" stroke-linecap="round"/></svg></div>
<div class="t" style="left:7.0px;top:580.9px;width:17px">19</div>
<div class="t" style="left:24.2px;top:580.9px;width:23px">P</div>
<div class="t" style="left:183.1px;top:580.9px;width:122px;letter-spacing:-0.13px">Deutsch</div>
<div class="t" style="left:513.6px;top:580.9px;width:68px">3,00</div>
<div class="t" style="left:582.6px;top:580.9px;width:68px">3,00</div>
<div class="t" style="left:651.0px;top:580.9px;width:67px">3,00</div>
<div class="t" style="left:719.5px;top:580.9px;width:68px">3,00</div>
<div class="t" style="left:788.5px;top:580.9px;width:68px">3,00</div>
<div class="t" style="left:857.1px;top:580.9px;width:68px">3,00</div>
<div class="pb" style="left:48px;top:579.5px;height:11px"><i></i></div>
<div class="t" style="left:7.0px;top:591.9px;width:17px">19.0</div>
<div class="t" style="left:24.2px;top:591.9px;width:23px">P</div>
<div class="t" style="left:183.1px;top:591.9px;width:122px;letter-spacing:-0.13px">Deutsch</div>
<div class="t" style="left:651.0px;top:591.9px;width:67px">3,00</div>
<div class="t" style="left:719.5px;top:591.9px;width:68px">0,00</div>
<div class="t" style="left:788.5px;top:591.9px;width:68px">0,00</div>
<div class="t" style="left:857.1px;top:591.9px;width:68px">3,00</div>
<div class="xb" style="left:925px;top:590.5px;height:11px"><svg width="10" height="9" viewBox="0 0 10 9"><path d="M2.2 1.8 L7.8 7.2 M7.8 1.8 L2.2 7.2" stroke="#f23a40" stroke-width="2.3" stroke-linecap="round"/></svg></div>
<div class="t" style="left:7.0px;top:602.9px;width:17px">20</div>
<div class="t" style="left:24.2px;top:602.9px;width:23px">W</div>
<div class="t" style="left:183.1px;top:602.9px;width:122px;letter-spacing:-0.13px">Sport</div>
<div class="t" style="left:306.4px;top:602.9px;width:68px">0,00</div>
<div class="t" style="left:444.1px;top:602.9px;width:68px">0,00</div>
<div class="t" style="left:513.6px;top:602.9px;width:68px">0,00</div>
<div class="t" style="left:651.0px;top:602.9px;width:67px">0,00</div>
<div class="t" style="left:719.5px;top:602.9px;width:68px">0,00</div>
<div class="t" style="left:788.5px;top:602.9px;width:68px">0,00</div>
<div class="t" style="left:857.1px;top:602.9px;width:68px">0,00</div>
<div class="pb" style="left:48px;top:601.5px;height:11px"><i></i></div>
<div class="t" style="left:7.0px;top:613.9px;width:17px">20.0</div>
<div class="t" style="left:24.2px;top:613.9px;width:23px">W</div>
<div class="t" style="left:183.1px;top:613.9px;width:122px;letter-spacing:-0.13px">Sport</div>
<div class="t" style="left:444.1px;top:613.9px;width:68px">0,00</div>
<div class="t" style="left:651.0px;top:613.9px;width:67px">0,00</div>
<div class="t" style="left:719.5px;top:613.9px;width:68px">0,00</div>
<div class="t" style="left:788.5px;top:613.9px;width:68px">0,00</div>
<div class="t" style="left:857.1px;top:613.9px;width:68px">0,00</div>
<div class="xb" style="left:925px;top:612.5px;height:10px"><svg width="10" height="9" viewBox="0 0 10 9"><path d="M2.2 1.8 L7.8 7.2 M7.8 1.8 L2.2 7.2" stroke="#f23a40" stroke-width="2.3" stroke-linecap="round"/></svg></div>
<div class="t" style="left:7.0px;top:623.9px;width:17px">21</div>
<div class="t" style="left:24.2px;top:623.9px;width:23px">W</div>
<div class="t" style="left:183.1px;top:623.9px;width:122px;letter-spacing:-0.13px">Fremdsprache</div>
<div class="t" style="left:306.4px;top:623.9px;width:68px">0,00</div>
<div class="t" style="left:444.1px;top:623.9px;width:68px">0,00</div>
<div class="t" style="left:513.6px;top:623.9px;width:68px">0,00</div>
<div class="t" style="left:651.0px;top:623.9px;width:67px">0,00</div>
<div class="t" style="left:719.5px;top:623.9px;width:68px">0,00</div>
<div class="t" style="left:788.5px;top:623.9px;width:68px">0,00</div>
<div class="t" style="left:857.1px;top:623.9px;width:68px">0,00</div>
<div class="pb" style="left:48px;top:622.5px;height:11px"><i></i></div>
<div class="t" style="left:7.0px;top:634.9px;width:17px">21.0</div>
<div class="t" style="left:24.2px;top:634.9px;width:23px">W</div>
<div class="t" style="left:183.1px;top:634.9px;width:122px;letter-spacing:-0.13px">Fremdsprache</div>
<div class="t" style="left:444.1px;top:634.9px;width:68px">0,00</div>
<div class="t" style="left:651.0px;top:634.9px;width:67px">0,00</div>
<div class="t" style="left:719.5px;top:634.9px;width:68px">0,00</div>
<div class="t" style="left:788.5px;top:634.9px;width:68px">0,00</div>
<div class="t" style="left:857.1px;top:634.9px;width:68px">0,00</div>
<div class="xb" style="left:925px;top:633.5px;height:11px"><svg width="10" height="9" viewBox="0 0 10 9"><path d="M2.2 1.8 L7.8 7.2 M7.8 1.8 L2.2 7.2" stroke="#f23a40" stroke-width="2.3" stroke-linecap="round"/></svg></div>
<!-- scrollbar -->
<div class="a" style="left:947px;top:191px;width:7.4px;height:442px;background:#f6f6fe"></div>
<div class="a" style="left:937px;top:191px;width:10px;height:442px;background:#f8f8ff"></div>
<div class="a" style="left:937px;top:202.5px;width:10.5px;height:358px;background:#e6eaf8"></div>
<div class="a" style="left:938.4px;top:192.2px;width:8px;height:9.6px;background:linear-gradient(#f8faff,#dae2f0);border-radius:1.5px"></div>
<svg class="a" style="left:939.4px;top:195px" width="6" height="4" viewBox="0 0 6 4"><path d="M0.5 3.5 L3 1 L5.5 3.5" fill="none" stroke="#4a5a7a" stroke-width="1.1"/></svg>
<div class="a" style="left:939.3px;top:202.8px;width:6.8px;height:357px;background:linear-gradient(90deg,#d4def4,#bccaec 40%,#acbce2);border-radius:1px"></div>
<div class="a" style="left:940.8px;top:378px;width:3.6px;height:4.6px;background:repeating-linear-gradient(#e4eaf8 0 1px,transparent 1px 1.8px)"></div>
<div class="a" style="left:938.4px;top:622.4px;width:8px;height:10.6px;background:linear-gradient(#f0f3fa,#d0daea);border-radius:1.5px"></div>
<svg class="a" style="left:939.4px;top:626.2px" width="6" height="4" viewBox="0 0 6 4"><path d="M0.5 0.5 L3 3 L5.5 0.5" fill="none" stroke="#4a5a7a" stroke-width="1.1"/></svg>
</body></html>
